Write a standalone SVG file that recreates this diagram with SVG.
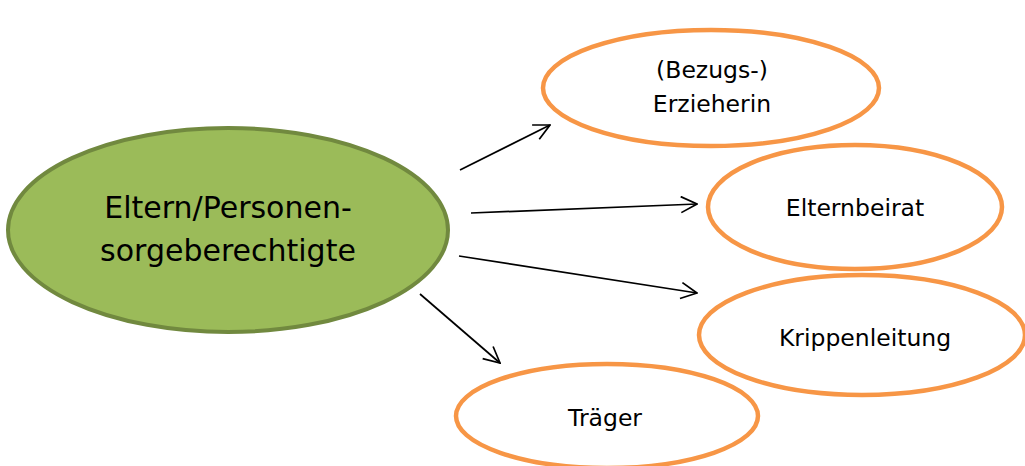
<svg xmlns="http://www.w3.org/2000/svg" width="1025" height="466" viewBox="0 0 1025 466">
<defs>
<style>
.main{fill:#9BBB59;stroke:#71893F;stroke-width:4}
.side{fill:#FFFFFF;stroke:#F79646;stroke-width:4.5}
text{font-family:"DejaVu Sans","Noto Sans",sans-serif;fill:#000;text-anchor:middle}
.t1{font-size:30px}
.t2{font-size:23.5px}
.conn{stroke:#000;stroke-width:1.7;fill:none;marker-end:url(#arr)}
</style>
<marker id="arr" viewBox="0 0 18 18" refX="17" refY="9" markerWidth="18" markerHeight="18" markerUnits="userSpaceOnUse" orient="auto">
<path d="M1,1 L17,9 L1,17" fill="none" stroke="#000" stroke-width="1.7"/>
</marker>
</defs>
<rect width="1025" height="466" fill="#FFFFFF"/>
<g id="connectors">
<line class="conn" x1="460" y1="170" x2="550" y2="125"/>
<line class="conn" x1="471" y1="213" x2="697" y2="204"/>
<line class="conn" x1="459" y1="256" x2="697" y2="293"/>
<line class="conn" x1="420" y1="294" x2="500" y2="363"/>
</g>
<g id="eltern">
<ellipse class="main" cx="228" cy="230" rx="220" ry="102"/>
<text class="t1" x="228" y="218">Eltern/Personen-</text>
<text class="t1" x="228" y="261">sorgeberechtigte</text>
</g>
<g id="erzieherin">
<ellipse class="side" cx="711" cy="88" rx="168" ry="58"/>
<text class="t2" x="712" y="78">(Bezugs-)</text>
<text class="t2" x="712" y="112">Erzieherin</text>
</g>
<g id="elternbeirat">
<ellipse class="side" cx="855" cy="207" rx="147" ry="62"/>
<text class="t2" x="855" y="216">Elternbeirat</text>
</g>
<g id="krippenleitung">
<ellipse class="side" cx="862" cy="335" rx="163" ry="60"/>
<text class="t2" x="865" y="346">Krippenleitung</text>
</g>
<g id="traeger">
<ellipse class="side" cx="607" cy="416" rx="151" ry="52"/>
<text class="t2" x="605" y="426">Träger</text>
</g>
</svg>
